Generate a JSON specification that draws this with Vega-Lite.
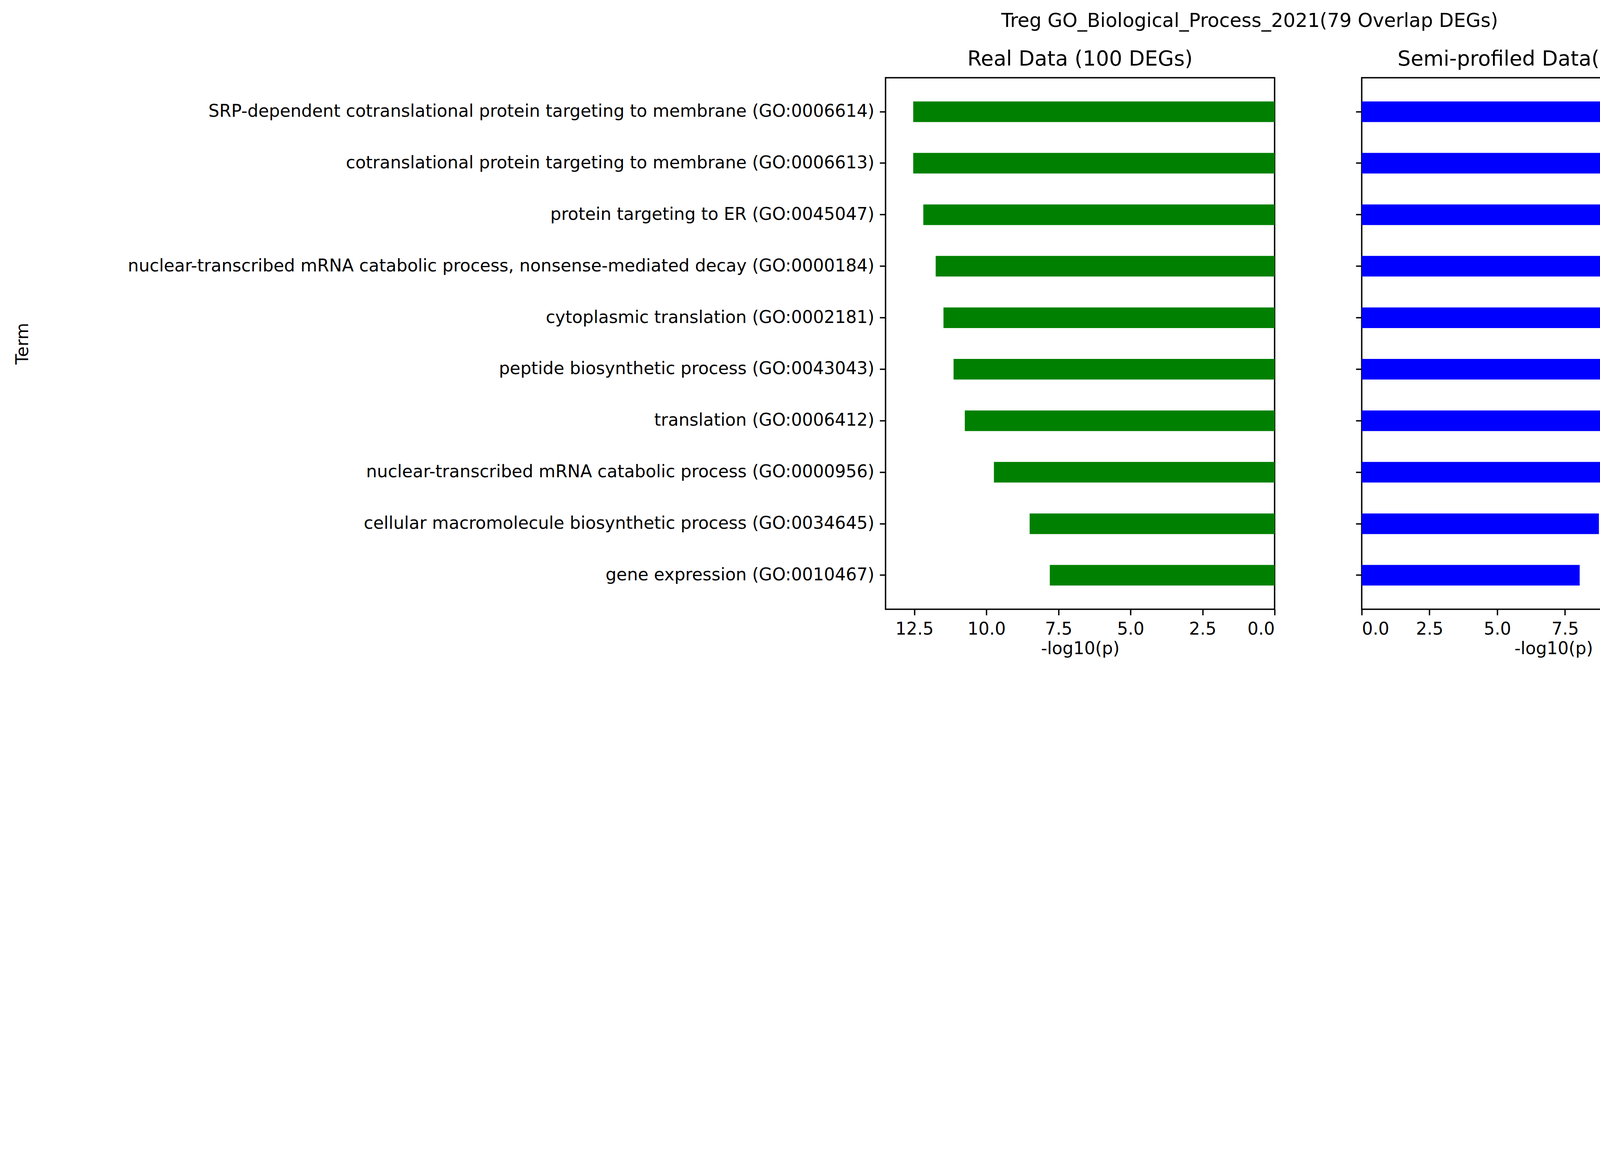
{
  "$schema": "https://vega.github.io/schema/vega-lite/v6.json",
  "background": "white",
  "padding": {"left": 34, "top": 30, "right": 30, "bottom": 20},
  "title": {
    "text": "Treg GO_Biological_Process_2021(79 Overlap DEGs)",
    "anchor": "start",
    "dx": 2529,
    "fontSize": 49,
    "fontWeight": "normal",
    "font": "DejaVu Sans",
    "offset": 45
  },
  "datasets": {
    "go": [
      {"term": "SRP-dependent cotranslational protein targeting to membrane (GO:0006614)", "real": 12.54, "semi": 13.33},
      {"term": "cotranslational protein targeting to membrane (GO:0006613)", "real": 12.54, "semi": 13.30},
      {"term": "protein targeting to ER (GO:0045047)", "real": 12.19, "semi": 12.95},
      {"term": "nuclear-transcribed mRNA catabolic process, nonsense-mediated decay (GO:0000184)", "real": 11.76, "semi": 12.5},
      {"term": "cytoplasmic translation (GO:0002181)", "real": 11.49, "semi": 12.2},
      {"term": "peptide biosynthetic process (GO:0043043)", "real": 11.14, "semi": 11.84},
      {"term": "translation (GO:0006412)", "real": 10.75, "semi": 10.77},
      {"term": "nuclear-transcribed mRNA catabolic process (GO:0000956)", "real": 9.74, "semi": 10.73},
      {"term": "cellular macromolecule biosynthetic process (GO:0034645)", "real": 8.5, "semi": 8.75},
      {"term": "gene expression (GO:0010467)", "real": 7.8, "semi": 8.04}
    ]
  },
  "data": {"name": "go"},
  "spacing": 200,
  "hconcat": [
    {
      "width": 996,
      "height": 1361,
      "title": {"text": "Real Data (100 DEGs)"},
      "mark": {"type": "bar", "color": "green"},
      "encoding": {
        "y": {
          "field": "term", "type": "nominal", "sort": null,
          "scale": {"paddingInner": 0.6, "paddingOuter": 0.46},
          "axis": {"title": "Term", "titleX": -2187, "titleBaseline": "bottom"}
        },
        "x": {
          "field": "real", "type": "quantitative",
          "scale": {"domain": [0, 13.5], "reverse": true, "nice": false, "zero": true},
          "axis": {"title": "-log10(p)", "values": [0, 2.5, 5, 7.5, 10, 12.5], "format": ".1f"}
        }
      }
    },
    {
      "width": 982,
      "height": 1361,
      "title": {"text": "Semi-profiled Data(100 DEGs)"},
      "mark": {"type": "bar", "color": "blue"},
      "encoding": {
        "y": {
          "field": "term", "type": "nominal", "sort": null,
          "scale": {"paddingInner": 0.6, "paddingOuter": 0.46},
          "axis": {"title": null, "labels": false}
        },
        "x": {
          "field": "semi", "type": "quantitative",
          "scale": {"domain": [0, 14.15], "nice": false},
          "axis": {"title": "-log10(p)", "values": [0, 2.5, 5, 7.5, 10, 12.5], "format": ".1f"}
        }
      }
    }
  ],
  "config": {
    "font": "DejaVu Sans",
    "view": {"stroke": "black", "strokeWidth": 3.5},
    "title": {"fontSize": 53, "fontWeight": "normal", "offset": 20},
    "axis": {
      "grid": false,
      "domain": false,
      "tickColor": "black",
      "tickWidth": 3.5,
      "tickSize": 15,
      "labelFontSize": 44,
      "labelColor": "black",
      "labelPadding": 14,
      "labelLimit": 4000,
      "titleFontSize": 44,
      "titleFontWeight": "normal",
      "titleColor": "black",
      "titlePadding": 6
    }
  }
}
